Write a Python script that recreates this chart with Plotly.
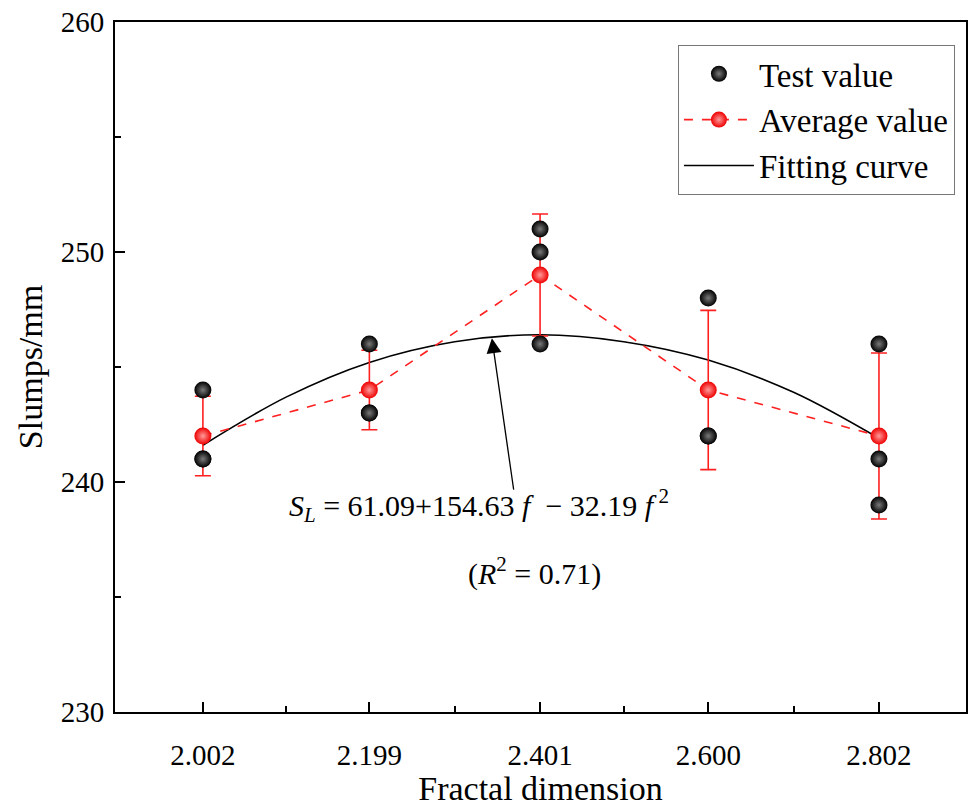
import plotly.graph_objects as go

# ---- data ----
fractal_dims = [2.002, 2.199, 2.401, 2.600, 2.802]
tick_labels = ["2.002", "2.199", "2.401", "2.600", "2.802"]
test_values = [
    [244, 241, 241],
    [246, 243, 243],
    [251, 250, 246],
    [248, 242, 242],
    [246, 241, 239],
]
average_values = [242, 244, 249, 244, 242]
average_std = [1.73, 1.73, 2.65, 3.46, 3.61]
curve_f = [2.002, 2.101, 2.199, 2.300, 2.401, 2.500, 2.600, 2.701, 2.802]
curve_s = [241.6, 243.7, 245.2, 246.1, 246.4, 246.1, 245.3, 243.9, 241.9]
minor_ticks_x = [2.1005, 2.300, 2.5005, 2.701]

FONT = "Liberation Serif"

test_x = [f for f, vals in zip(fractal_dims, test_values) for _ in vals]
test_y = [v for vals in test_values for v in vals]

fig = go.Figure()

fig.add_trace(go.Scatter(
    x=curve_f, y=curve_s, mode="lines", name="Fitting curve",
    line=dict(color="black", width=1.6, shape="spline", smoothing=1.0),
))

fig.add_trace(go.Scatter(
    x=fractal_dims, y=average_values, mode="lines+markers", name="Average value",
    line=dict(color="#ff2020", width=1.6, dash="dash"),
    marker=dict(size=17, color="#ee0000", gradient=dict(type="radial", color="#ff9a9a")),
    error_y=dict(type="data", array=average_std, visible=True, color="#ff2020",
                 thickness=1.6, width=8),
))

fig.add_trace(go.Scatter(
    x=test_x, y=test_y, mode="markers", name="Test value",
    marker=dict(size=17, color="black", gradient=dict(type="radial", color="#7a7a7a")),
))

# equation and arrow
fig.add_annotation(
    x=2.344, y=246.25, ax=2.370, ay=239.6, xref="x", yref="y", axref="x", ayref="y",
    showarrow=True, arrowhead=2, arrowsize=2.3, arrowwidth=1.3, arrowcolor="black", text="",
)
fig.add_annotation(
    x=2.329, y=239.0, xref="x", yref="y", showarrow=False,
    text="<i>S</i><sub><i>L</i></sub> = 61.09+154.63<i> f </i> − 32.19<i> f</i><sup> 2</sup>",
    font=dict(family=FONT, size=30, color="black"),
)
fig.add_annotation(
    x=2.394, y=236.1, xref="x", yref="y", showarrow=False,
    text="(<i>R</i><sup>2</sup> = 0.71)",
    font=dict(family=FONT, size=30, color="black"),
)

fig.update_layout(
    width=972, height=807,
    margin=dict(l=115, r=4, t=22, b=95),
    paper_bgcolor="white", plot_bgcolor="white",
    font=dict(family=FONT, color="black"),
    showlegend=True,
    legend=dict(
        x=0.987, y=0.967, xanchor="right", yanchor="top",
        bgcolor="white", bordercolor="#777777", borderwidth=1,
        font=dict(family=FONT, size=33, color="black"),
        traceorder="reversed", itemwidth=70,
    ),
    xaxis=dict(
        range=[1.898, 2.905], tickmode="array", tickvals=fractal_dims, ticktext=tick_labels,
        ticks="inside", ticklen=10, tickwidth=1.6, tickcolor="black",
        showline=True, linecolor="black", linewidth=2, mirror=True,
        showgrid=False, zeroline=False,
        tickfont=dict(family=FONT, size=29, color="black"),
        ticklabelstandoff=16,
        minor=dict(tickmode="array", tickvals=minor_ticks_x, ticks="inside",
                   ticklen=6, tickwidth=1.6, tickcolor="black", showgrid=False),
        title=dict(text="Fractal dimension", font=dict(family=FONT, size=34, color="black"), standoff=6),
    ),
    yaxis=dict(
        range=[230, 260], tickmode="array", tickvals=[230, 240, 250, 260],
        ticks="inside", ticklen=10, tickwidth=1.6, tickcolor="black",
        showline=True, linecolor="black", linewidth=2, mirror=True,
        showgrid=False, zeroline=False,
        tickfont=dict(family=FONT, size=29, color="black"),
        ticklabelstandoff=3,
        minor=dict(tickmode="array", tickvals=[235, 245, 255], ticks="inside",
                   ticklen=6, tickwidth=1.6, tickcolor="black", showgrid=False),
        title=dict(text="Slumps/mm", font=dict(family=FONT, size=34, color="black"), standoff=8),
    ),
)

fig.write_html("out.html")
